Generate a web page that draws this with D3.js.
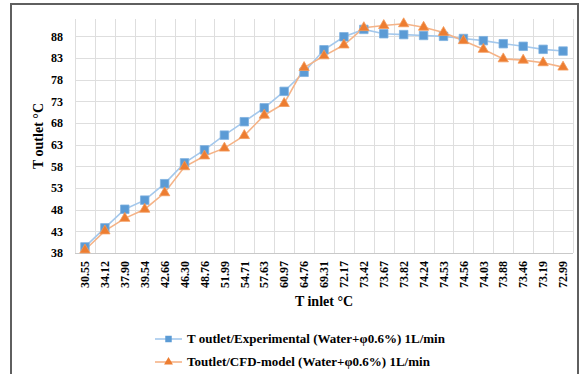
<!DOCTYPE html>
<html>
<head>
<meta charset="utf-8">
<script src="https://cdn.jsdelivr.net/npm/d3@7"></script>
<style>
  html, body { margin: 0; padding: 0; background: #fff; }
  svg { display: block; }
  text { font-family: "Liberation Serif", "Times New Roman", serif; font-weight: bold; fill: #000; }
</style>
</head>
<body>
<svg id="chart" width="582" height="374"></svg>
<script>
// Inlet temperatures (category labels, in measurement order)
const inletLabels = ["30.55","34.12","37.90","39.54","42.66","46.30","48.76","51.99","54.71","57.63",
  "60.97","64.76","69.31","72.17","73.42","73.67","73.82","74.24","74.53","74.56",
  "74.03","73.88","73.46","73.19","72.99"];

// Outlet temperature, experimental
const experimental = [39.4, 43.8, 48.1, 50.2, 54.0, 58.8, 61.8, 65.2, 68.3, 71.5,
  75.3, 79.7, 84.9, 87.9, 89.6, 88.6, 88.4, 88.2, 88.0, 87.5,
  87.0, 86.3, 85.7, 85.0, 84.6];

// Outlet temperature, CFD model
const cfdModel = [38.7, 43.1, 46.0, 48.1, 51.9, 57.9, 60.4, 62.2, 65.1, 69.8,
  72.5, 80.8, 83.5, 86.0, 90.0, 90.5, 90.9, 90.1, 88.9, 87.0,
  85.0, 82.8, 82.5, 81.9, 80.9];

const yTicks = [38, 43, 48, 53, 58, 63, 68, 73, 78, 83, 88];

const seriesNames = [
  "T outlet/Experimental (Water+\u03c60.6%) 1L/min",
  "Toutlet/CFD-model (Water+\u03c60.6%) 1L/min"
];

const svg = d3.select("#chart");
const plot = { left: 75, right: 573, top: 19, bottom: 253 };

const x = d3.scaleBand().domain(d3.range(inletLabels.length))
  .range([plot.left, plot.right]).paddingInner(0).paddingOuter(0);
const y = d3.scaleLinear().domain([38, 92]).range([plot.bottom, plot.top]);

// outer chart frame
svg.append("rect")
  .attr("x", 11).attr("y", 4).attr("width", 567).attr("height", 400)
  .attr("fill", "#fff").attr("stroke", "#5f5f5f").attr("stroke-width", 2);

// grid
const grid = svg.append("g");
grid.selectAll("line.h").data(yTicks).join("line")
  .attr("x1", plot.left).attr("x2", plot.right)
  .attr("y1", d => Math.round(y(d)) + 0.5).attr("y2", d => Math.round(y(d)) + 0.5)
  .attr("stroke", d => d === 38 ? "#c9c9c9" : "#dedede").attr("stroke-width", 1);
grid.selectAll("line.v").data(d3.range(inletLabels.length + 1)).join("line")
  .attr("x1", i => Math.round(plot.left + i * x.step()) + 0.5)
  .attr("x2", i => Math.round(plot.left + i * x.step()) + 0.5)
  .attr("y1", plot.top).attr("y2", plot.bottom)
  .attr("stroke", "#dedede").attr("stroke-width", 1);

// y axis labels
const yAxis = d3.axisLeft(y).tickValues(yTicks).tickSize(0).tickPadding(12);
svg.append("g").attr("transform", `translate(${plot.left},0)`).call(yAxis)
  .call(g => g.select(".domain").remove())
  .call(g => g.selectAll("text").attr("font-size", 12)
    .attr("font-family", "Liberation Serif").attr("font-weight", "bold"));

// x axis labels (rotated)
const xAxis = d3.axisBottom(x).tickFormat(i => inletLabels[i]).tickSize(0);
svg.append("g").attr("transform", `translate(0,${plot.bottom})`).call(xAxis)
  .call(g => g.select(".domain").remove())
  .call(g => g.selectAll("text")
    .attr("font-size", 12).attr("font-family", "Liberation Serif").attr("font-weight", "bold")
    .attr("text-anchor", "end")
    .attr("transform", "rotate(-90)")
    .attr("x", -8).attr("y", 0).attr("dy", "0.35em"));

// axis titles
svg.append("text")
  .attr("x", (plot.left + plot.right) / 2).attr("y", 306)
  .attr("text-anchor", "middle").attr("font-size", 14)
  .text("T inlet \u00b0C");
svg.append("text")
  .attr("transform", `translate(43,${(plot.top + plot.bottom) / 2}) rotate(-90)`)
  .attr("text-anchor", "middle").attr("font-size", 14)
  .text("T outlet \u00b0C");

const cx = (d, i) => x(i) + x.bandwidth() / 2;
const line = d3.line().x(cx).y(d => y(d));

const blue = "#5b9bd5", blueLine = "#a4c8ec";
const orange = "#ed7d31", orangeLine = "#f5b387";

// series lines
svg.append("path").datum(experimental).attr("d", line)
  .attr("fill", "none").attr("stroke", blueLine).attr("stroke-width", 1.6);
svg.append("path").datum(cfdModel).attr("d", line)
  .attr("fill", "none").attr("stroke", orangeLine).attr("stroke-width", 1.6);

const square = d3.symbol().type(d3.symbolSquare).size(72);
const triangle = d3.symbol().type(d3.symbolTriangle).size(46);

// markers
svg.append("g").selectAll("path").data(experimental).join("path")
  .attr("d", square)
  .attr("transform", (d, i) => `translate(${cx(d, i)},${y(d)})`)
  .attr("fill", blue).attr("stroke", "#7fb1e0").attr("stroke-width", 0.8);
svg.append("g").selectAll("path").data(cfdModel).join("path")
  .attr("d", triangle)
  .attr("transform", (d, i) => `translate(${cx(d, i)},${y(d)})`)
  .attr("fill", orange).attr("stroke", "#f39a5c").attr("stroke-width", 0.8);

// legend
const legend = svg.append("g");
const legendRows = [
  { name: seriesNames[0], ly: 339, lineColor: blueLine, sym: d3.symbol().type(d3.symbolSquare).size(42), fill: blue },
  { name: seriesNames[1], ly: 362, lineColor: orangeLine, sym: d3.symbol().type(d3.symbolTriangle).size(34), fill: orange }
];
legendRows.forEach(r => {
  legend.append("line").attr("x1", 155).attr("x2", 182).attr("y1", r.ly).attr("y2", r.ly)
    .attr("stroke", r.lineColor).attr("stroke-width", 1.6);
  legend.append("path").attr("d", r.sym).attr("transform", `translate(168.5,${r.ly})`)
    .attr("fill", r.fill);
  legend.append("text").attr("x", 187).attr("y", r.ly).attr("dy", "0.33em")
    .attr("font-size", 13).text(r.name);
});
</script>
</body>
</html>
